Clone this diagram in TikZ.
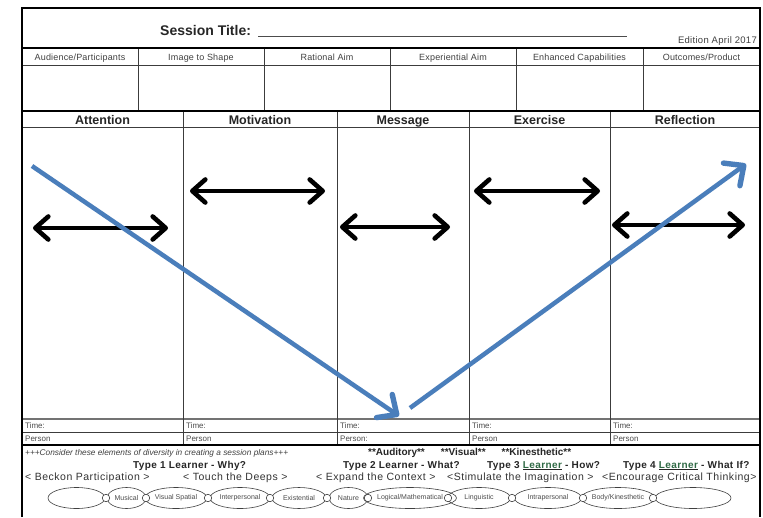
\documentclass[tikz,border=0pt]{standalone}
\usepackage{fontspec}
\setmainfont{Liberation Sans}
\usetikzlibrary{arrows.meta,shapes.geometric}
\definecolor{flowblue}{HTML}{4A7EBB}
\definecolor{rulegray}{HTML}{3C3C3C}
\definecolor{learngreen}{HTML}{2F6A45}
\newcommand{\fs}[1]{\fontsize{#1}{#1}\selectfont}
\newcommand{\spaced}[1]{\addfontfeature{LetterSpace=#1}}
\newcommand{\lrn}{\textcolor{learngreen}{Learner}}

\begin{document}
\begin{tikzpicture}[x=1pt,y=-1pt,
  frame/.style={line width=1.8pt,black},
  heavy/.style={line width=1.4pt,black},
  thin/.style={line width=0.8pt,rulegray},
  colhead/.style={font=\fs{9}\spaced{2},text=black!75,inner sep=0,anchor=base},
  phase/.style={font=\fs{12.5}\bfseries,text=black!85,inner sep=0,anchor=base},
  cell/.style={font=\fs{8},text=black!70,anchor=base west,inner sep=0},
  chev/.tip={Straight Barb[length=13pt,width=23pt,line width=0pt 1.35,round]},
  twoway/.style={line width=3.4pt,black,{chev}-{chev}},
  bluechev/.tip={Straight Barb[length=15pt,width=28pt,line width=0pt 1.2,round]},
  flow/.style={line width=4.5pt,flowblue,-{bluechev}},
  bubble/.style={ellipse,draw=black!75,line width=0.6pt,minimum height=21pt,
    inner sep=0,font=\fs{7},text=black!70},
  dot/.style={circle,draw=black!75,line width=0.6pt,minimum size=7.5pt,inner sep=0,fill=white},
  note/.style={inner sep=0,anchor=base west}
]
\useasboundingbox (0,0) rectangle (763,517);
\fill[white] (0,0) rectangle (763,517);

% ---- form grid ----
\draw[thin] (22,65) -- (760,65);
\draw[thin] (22,127) -- (760,127);
\draw[line width=1.1pt,black!55] (22,419) -- (760,419);
\draw[thin] (22,432) -- (760,432);
\foreach \x in {138,264,390,516,643} \draw[thin] (\x,48) -- (\x,111);
\foreach \x in {183,337,469,610} \draw[thin] (\x,111) -- (\x,445);
\draw[heavy] (22,48) -- (760,48);
\draw[heavy] (22,111) -- (760,111);
\draw[heavy] (22,445) -- (760,445);
\draw[frame] (22,517) -- (22,8) -- (760,8) -- (760,517);

% ---- title row ----
\node[note,font=\fs{14}\bfseries,text=black!85] (title) at (160,35) {Session Title:};
\coordinate (lineA) at (258,36);
\coordinate (lineB) at (627,36);
\draw[line width=0.7pt,black!70] (lineA) -- (lineB);
\node[inner sep=0,anchor=base east,font=\fs{9.5}\spaced{3},text=black!75] (edition) at (757,43) {Edition April 2017};

% ---- planning columns ----
\node[colhead] (h1) at (80,60) {Audience/Participants};
\node[colhead] (h2) at (201,60) {Image to Shape};
\node[colhead] (h3) at (327,60) {Rational Aim};
\node[colhead] (h4) at (453,60) {Experiential Aim};
\node[colhead] (h5) at (579.5,60) {Enhanced Capabilities};
\node[colhead] (h6) at (701.5,60) {Outcomes/Product};

% ---- phase columns ----
\node[phase] (p1) at (102.5,124) {Attention};
\node[phase] (p2) at (260,124) {Motivation};
\node[phase] (p3) at (403,124) {Message};
\node[phase] (p4) at (539.5,124) {Exercise};
\node[phase] (p5) at (685,124) {Reflection};

% ---- time / person rows ----
\foreach \x/\n in {25/1,186/2,340/3,472/4,613/5}
  \node[cell] (time\n) at (\x,428) {Time:};
\node[cell] (pers1) at (25,441) {Person};
\node[cell] (pers2) at (186,441) {Person};
\node[cell] (pers3) at (340,441) {Person:};
\node[cell] (pers4) at (472,441) {Person};
\node[cell] (pers5) at (613,441) {Person};

% ---- two-way arrows in each phase ----
\coordinate (a1l) at (33,228);  \coordinate (a1r) at (168,228);
\coordinate (a2l) at (190,191); \coordinate (a2r) at (325,191);
\coordinate (a3l) at (340,227); \coordinate (a3r) at (450,227);
\coordinate (a4l) at (474,191); \coordinate (a4r) at (600,191);
\coordinate (a5l) at (612,225); \coordinate (a5r) at (745,225);
\foreach \n in {1,...,5} \draw[twoway] (a\n l) -- (a\n r);

% ---- descent and ascent ----
\coordinate (d0) at (32,166);
\coordinate (d1) at (399,416);
\coordinate (u0) at (410,408);
\coordinate (u1) at (746,164);
\draw[flow] (d0) -- (d1);
\draw[flow] (u0) -- (u1);

% ---- diversity notes ----
\node[note,font=\fs{8.3}\itshape,text=black!75] (consider) at (25,455)
  {+++Consider these elements of diversity in creating a session plans+++};
\node[note,font=\fs{10}\bfseries,text=black!85] (senses) at (368,455)
  {**Auditory**\hspace{16pt}**Visual**\hspace{16pt}**Kinesthetic**};

\begin{scope}[every node/.style={note,font=\fs{10}\bfseries\spaced{4},text=black!85}]
\node (t1) at (133,468) {Type 1 Learner - Why?};
\node (t2) at (343,468) {Type 2 Learner - What?};
\node (t3) at (487,468) {Type 3 \underline{\lrn} - How?};
\node (t4) at (623,468) {Type 4 \underline{\lrn} - What If?};
\end{scope}

\begin{scope}[every node/.style={note,font=\fs{10.5}\spaced{5},text=black!80}]
\node (g1) at (25,480) {< Beckon Participation >};
\node (g2) at (183,480) {< Touch the Deeps >};
\node (g3) at (316,480) {< Expand the Context >};
\node (g4) at (447,480) {<Stimulate the Imagination >};
\node (g5) at (602,480) {<Encourage Critical Thinking>};
\end{scope}

% ---- intelligences chain ----
\node[bubble,minimum width=57pt] (b0) at (76.5,498) {};
\node[bubble,minimum width=39pt] (b1) at (126.5,498) {Musical};
\node[bubble,minimum width=62pt] (b2) at (176,498) {Visual Spatial};
\node[bubble,minimum width=60pt] (b3) at (240,498) {Interpersonal};
\node[bubble,minimum width=54pt] (b4) at (299,498) {Existential};
\node[bubble,minimum width=39pt] (b5) at (348.5,498) {Nature};
\node[bubble,minimum width=76pt] (b6) at (410,498) {Logical/Mathematical};
\node[bubble,minimum width=63pt] (b7) at (479,498) {Linguistic};
\node[bubble,minimum width=67pt] (b8) at (548,498) {Intrapersonal};
\node[bubble,minimum width=68pt] (b9) at (618,498) {Body/Kinesthetic};
\node[bubble,minimum width=76pt] (b10) at (693,498) {};
\foreach \x/\n in {106/1,146/2,208/3,270/4,327/5,368/6,448/7,512/8,583/9,653/10}
  \node[dot] (k\n) at (\x,498) {};
\end{tikzpicture}
\end{document}
